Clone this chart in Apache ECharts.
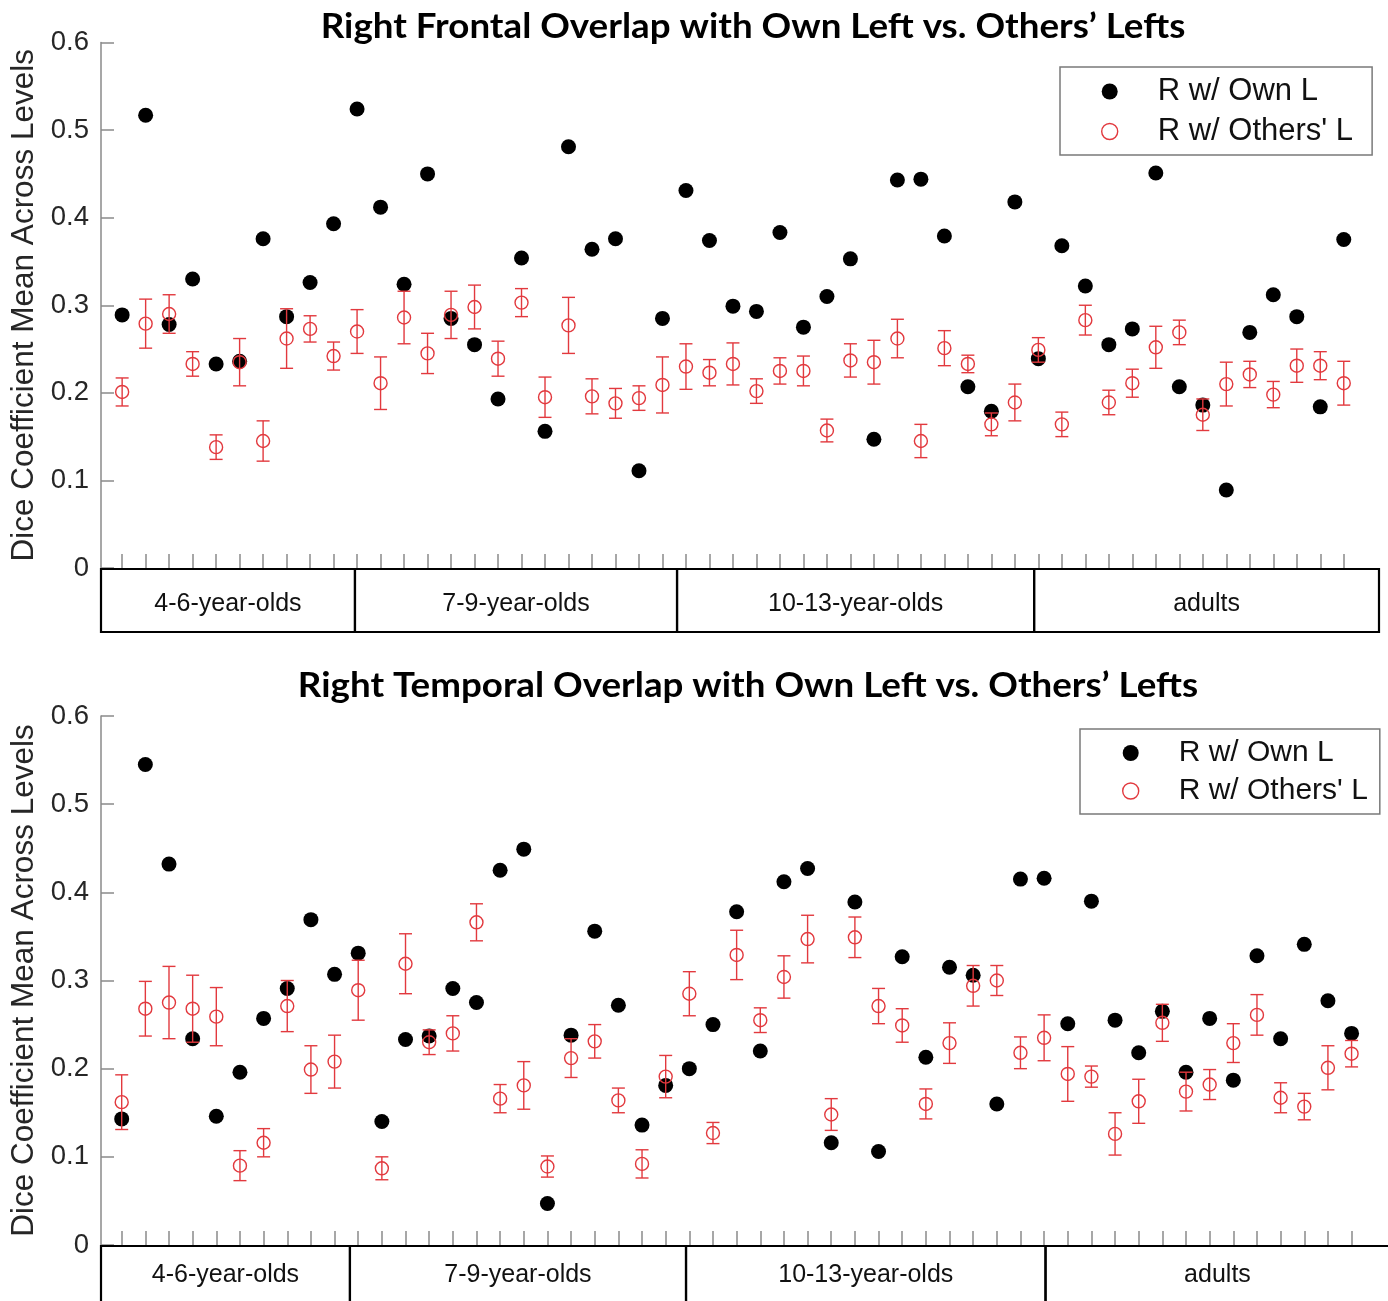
<!DOCTYPE html>
<html><head><meta charset="utf-8">
<script src="https://cdn.jsdelivr.net/npm/echarts@6/dist/echarts.min.js"></script>
<style>html,body{margin:0;padding:0;background:#fff}#c{width:1388px;height:1301px}</style>
</head><body><div id="c"></div>
<script>
// ---------- data ----------
const subjects = [1,2,3,4,5,6,7,8,9,10,11,12,13,14,15,16,17,18,19,20,21,22,23,24,25,26,27,28,29,30,31,32,33,34,35,36,37,38,39,40,41,42,43,44,45,46,47,48,49,50,51,52,53];
const groupLabels = ['4-6-year-olds','7-9-year-olds','10-13-year-olds','adults'];
const frontalGroupBounds = [0.1, 10.91, 24.62, 39.82, 54.5];
const temporalGroupBounds = [0.125, 10.65, 24.86, 40.06, 54.6];
const seriesNames = ['R w/ Own L', "R w/ Others' L"];
const panelTitles = ['Right Frontal Overlap with Own Left vs. Others\u2019 Lefts', 'Right Temporal Overlap with Own Left vs. Others\u2019 Lefts'];
const yAxisTitle = 'Dice Coefficient Mean Across Levels';

const frontalOwn = [0.289,0.517,0.278,0.330,0.233,0.236,0.376,0.287,0.326,0.393,0.524,0.412,0.324,0.450,0.285,0.255,0.193,0.354,0.156,0.481,0.364,0.376,0.111,0.285,0.431,0.374,0.299,0.293,0.383,0.275,0.310,0.353,0.147,0.443,0.444,0.379,0.207,0.179,0.418,0.239,0.368,0.322,0.255,0.273,0.451,0.207,0.186,0.089,0.269,0.312,0.287,0.184,0.375];
const frontalOthers = [0.201,0.279,0.290,0.233,0.138,0.235,0.145,0.262,0.273,0.242,0.270,0.211,0.286,0.245,0.289,0.298,0.239,0.303,0.195,0.277,0.196,0.188,0.194,0.209,0.230,0.223,0.233,0.202,0.225,0.225,0.157,0.237,0.235,0.262,0.145,0.251,0.233,0.164,0.189,0.249,0.164,0.283,0.189,0.211,0.252,0.269,0.175,0.210,0.221,0.198,0.231,0.231,0.211];
const frontalOthersErr = [0.016,0.028,0.022,0.014,0.014,0.027,0.023,0.034,0.015,0.016,0.025,0.030,0.030,0.023,0.027,0.025,0.020,0.016,0.023,0.032,0.020,0.017,0.014,0.032,0.026,0.015,0.024,0.014,0.015,0.017,0.013,0.019,0.025,0.022,0.019,0.020,0.010,0.013,0.021,0.014,0.014,0.017,0.014,0.016,0.024,0.014,0.018,0.025,0.015,0.015,0.019,0.016,0.025];

const temporalOwn = [0.143,0.545,0.432,0.234,0.146,0.196,0.257,0.291,0.369,0.307,0.331,0.140,0.233,0.237,0.291,0.275,0.425,0.449,0.047,0.238,0.356,0.272,0.136,0.181,0.200,0.250,0.378,0.220,0.412,0.427,0.116,0.389,0.106,0.327,0.213,0.315,0.306,0.160,0.415,0.416,0.251,0.390,0.255,0.218,0.265,0.196,0.257,0.187,0.328,0.234,0.341,0.277,0.240];
const temporalOthers = [0.162,0.268,0.275,0.268,0.259,0.090,0.116,0.271,0.199,0.208,0.289,0.087,0.319,0.230,0.240,0.366,0.166,0.181,0.089,0.212,0.231,0.164,0.092,0.191,0.285,0.127,0.329,0.255,0.304,0.347,0.148,0.349,0.271,0.249,0.160,0.229,0.294,0.300,0.218,0.235,0.194,0.191,0.126,0.163,0.252,0.174,0.182,0.229,0.261,0.167,0.157,0.201,0.217];
const temporalOthersErr = [0.031,0.031,0.041,0.038,0.033,0.017,0.016,0.029,0.027,0.030,0.034,0.013,0.034,0.014,0.020,0.021,0.016,0.027,0.012,0.022,0.019,0.014,0.016,0.024,0.025,0.012,0.028,0.014,0.024,0.027,0.018,0.023,0.020,0.019,0.017,0.023,0.023,0.017,0.018,0.026,0.031,0.012,0.024,0.025,0.021,0.022,0.017,0.022,0.023,0.017,0.015,0.025,0.015];

// ---------- styling ----------
const RED = '#e2393e';
const SANS = '"Liberation Sans", Arial, Helvetica, sans-serif';
const TITLE_FONT = 'Lato, "Open Sans", sans-serif';
const AXIS_GRAY = '#8a8a8a';

const chart = echarts.init(document.getElementById('c'), null, {renderer: 'canvas'});

function errRender(params, api) {
  const x = api.value(0), lo = api.value(1), hi = api.value(2);
  const p1 = api.coord([x, hi]), p2 = api.coord([x, lo]);
  const w = 6.5;
  const style = {stroke: RED, lineWidth: 1.4, fill: null};
  return {type: 'group', children: [
    {type: 'line', shape: {x1: p1[0], y1: p1[1], x2: p2[0], y2: p2[1]}, style: style},
    {type: 'line', shape: {x1: p1[0]-w, y1: p1[1], x2: p1[0]+w, y2: p1[1]}, style: style},
    {type: 'line', shape: {x1: p2[0]-w, y1: p2[1], x2: p2[0]+w, y2: p2[1]}, style: style}
  ]};
}

function panelSeries(idx, own, others, err) {
  return [
    {name: seriesNames[0], type: 'scatter', xAxisIndex: idx, yAxisIndex: idx, symbol: 'circle', symbolSize: 15,
     itemStyle: {color: '#000', opacity: 1}, z: 2, data: subjects.map((s, i) => [s, own[i]])},
    {name: 'err' + idx, type: 'custom', xAxisIndex: idx, yAxisIndex: idx, renderItem: errRender, z: 3,
     data: subjects.map((s, i) => [s, others[i] - err[i], others[i] + err[i]])},
    {name: seriesNames[1], type: 'scatter', xAxisIndex: idx, yAxisIndex: idx, symbol: 'circle', symbolSize: 13,
     itemStyle: {color: 'rgba(0,0,0,0)', borderColor: RED, borderWidth: 1.4, opacity: 1}, z: 4,
     data: subjects.map((s, i) => [s, others[i]])}
  ];
}

function yAxisCfg(gi) {
  return {type: 'value', gridIndex: gi, min: 0, max: 0.6, interval: 0.1,
    name: yAxisTitle, nameLocation: 'middle', nameGap: 61,
    nameTextStyle: {fontFamily: SANS, fontSize: 31.5, color: '#262626'},
    axisLine: {show: true, lineStyle: {color: AXIS_GRAY, width: 1.5}},
    axisTick: {show: true, inside: true, length: 13, lineStyle: {color: AXIS_GRAY, width: 1.5}},
    axisLabel: {fontFamily: SANS, fontSize: 27.5, color: '#262626', margin: 12},
    splitLine: {show: false}};
}
function xAxisCfg(gi, mn, mx) {
  return {type: 'value', gridIndex: gi, min: mn, max: mx,
    axisLine: {show: false},
    axisTick: {show: true, inside: true, length: 14, customValues: subjects, lineStyle: {color: AXIS_GRAY, width: 1.5}},
    axisLabel: {show: false}, splitLine: {show: false}};
}

function legendCfg(left, top, fs, rowH, padL, padR, gap) {
  return {left: left, top: top, orient: 'vertical', selectedMode: false,
    itemWidth: 86, itemHeight: 16, itemGap: gap,
    padding: [9, padR, 8, padL],
    borderColor: '#7a7a7a', borderWidth: 1.5, backgroundColor: '#fff',
    textStyle: {fontFamily: SANS, fontSize: fs, color: '#111', lineHeight: rowH},
    data: [{name: seriesNames[0], icon: 'circle', itemStyle: {color: '#000', opacity: 1}},
           {name: seriesNames[1], icon: 'circle', itemStyle: {color: 'rgba(0,0,0,0)', borderColor: RED, borderWidth: 1.4, opacity: 1}}]};
}

const option = {
  animation: false,
  backgroundColor: '#fff',
  grid: [
    {left: 101, right: 9, top: 42.5, bottom: 733, outerBoundsMode: 'none'},
    {left: 101, right: 0, top: 716, bottom: 56, outerBoundsMode: 'none'}
  ],
  xAxis: [xAxisCfg(0, frontalGroupBounds[0], frontalGroupBounds[4]), xAxisCfg(1, temporalGroupBounds[0], 54.54)],
  yAxis: [yAxisCfg(0), yAxisCfg(1)],
  legend: [legendCfg(1060, 67, 31, 30, 41, 19, 9), legendCfg(1080, 729, 30, 29, 42, 12, 8)],
  series: [].concat(
    panelSeries(0, frontalOwn, frontalOthers, frontalOthersErr),
    panelSeries(1, temporalOwn, temporalOthers, temporalOthersErr)
  )
};
chart.setOption(option);

// ---------- titles and group-label boxes ----------
const graphics = [];
const titleX = [753, 748];
const titleY = [27, 686];
[0, 1].forEach(function (gi) {
  const y0 = chart.convertToPixel({yAxisIndex: gi}, 0);
  graphics.push({type: 'text', x: titleX[gi], y: titleY[gi], z: 10, scaleX: 1.08,
    style: {text: panelTitles[gi], font: 'bold 34px ' + TITLE_FONT, fill: '#000', align: 'center', verticalAlign: 'middle'}});
  const bounds = gi === 0 ? frontalGroupBounds : temporalGroupBounds;
  const boxH = 63;
  for (let k = 0; k < groupLabels.length; k++) {
    const a = chart.convertToPixel({xAxisIndex: gi}, bounds[k]);
    const b = chart.convertToPixel({xAxisIndex: gi}, bounds[k + 1]);
    graphics.push({type: 'rect', z: 5, shape: {x: a, y: y0 + 1, width: b - a, height: boxH},
      style: {fill: null, stroke: '#000', lineWidth: 2.2}});
    graphics.push({type: 'text', z: 6, x: (a + b) / 2, y: y0 + 1 + (gi === 0 ? 35 : 29),
      style: {text: groupLabels[k], font: '25px ' + SANS, fill: '#111', align: 'center', verticalAlign: 'middle'}});
  }
});
chart.setOption({graphic: graphics});
</script>
</body></html>
